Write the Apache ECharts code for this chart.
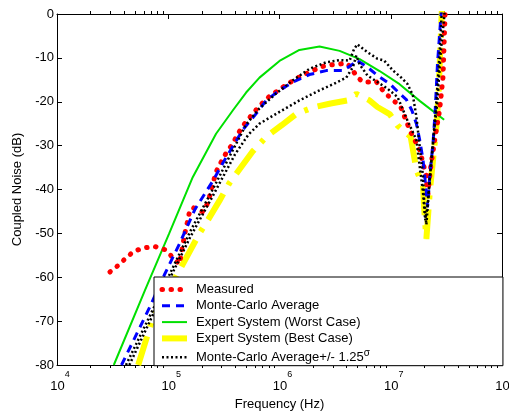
<!DOCTYPE html>
<html>
<head>
<meta charset="utf-8">
<script src="https://cdn.jsdelivr.net/npm/echarts@6/dist/echarts.min.js"></script>
<style>html,body{margin:0;padding:0;background:#fff;}#c{width:509px;height:412px;}</style>
</head>
<body>
<div id="c"></div>
<script>
// Frequencies in Hz, values in dB
const seriesNames = ['Measured', 'Monte-Carlo Average', 'Expert System (Worst Case)', 'Expert System (Best Case)', 'Monte-Carlo Average+/- 1.25σ'];
const yTicks = [0, -10, -20, -30, -40, -50, -60, -70, -80];
const decades = [1e4, 1e5, 1e6, 1e7];
const minorMultipliers = [2, 3, 4, 5, 6, 7, 8, 9];

const measuredF = [2.99e4,3.55e4,4.17e4,4.90e4,6.03e4,7.59e4,9.33e4,1.10e5,1.26e5,1.41e5,1.48e5,1.55e5,1.66e5,2.04e5,2.29e5,2.40e5,2.69e5,2.95e5,3.31e5,3.80e5,4.17e5,4.68e5,6.03e5,7.08e5,8.32e5,9.77e5,1.17e6,1.38e6,1.66e6,2.00e6,2.40e6,2.88e6,3.47e6,3.98e6,4.37e6,4.68e6,5.01e6,5.62e6,6.31e6,7.41e6,8.71e6,1.23e7,1.48e7,1.82e7,2.09e7,2.14e7,2.29e7,2.51e7,2.75e7,2.95e7,3.09e7];
const measuredDb = [-58.8,-57.3,-55.6,-54.1,-53.3,-53.0,-53.7,-55.5,-57.0,-50.0,-47.6,-45.2,-44.1,-45.1,-42.9,-40.6,-36.0,-34.0,-31.7,-29.6,-27.6,-25.5,-22.1,-20.2,-18.5,-17.4,-16.0,-14.9,-13.8,-12.9,-12.0,-11.6,-11.4,-11.2,-12.1,-13.3,-14.4,-15.5,-15.5,-15.4,-17.8,-21.2,-26.4,-31.0,-37.0,-42.0,-34.7,-28.0,-21.9,-14.4,1];

const mcAvgF = [3.80e4,6.76e4,9.33e4,1.26e5,1.74e5,2.51e5,3.09e5,3.80e5,4.68e5,6.17e5,7.59e5,1.00e6,1.32e6,1.86e6,2.63e6,3.72e6,4.57e6,4.90e6,6.17e6,7.59e6,9.77e6,1.20e7,1.38e7,1.55e7,1.70e7,1.82e7,1.95e7,2.09e7,2.14e7,2.24e7,2.40e7,2.51e7,2.63e7,2.85e7];
const mcAvgDb = [-80,-67.0,-59.2,-52.4,-44.5,-38.1,-34.0,-30.2,-26.4,-22.7,-19.7,-17.4,-15.5,-13.8,-12.9,-12.9,-11.4,-10.5,-12.1,-14.0,-15.9,-18.1,-19.5,-22.0,-25.0,-28.7,-33.2,-40.7,-44.0,-37.0,-29.4,-21.9,-11.4,1];

const worstF = [3.24e4,6.17e4,1.02e5,1.66e5,2.69e5,3.80e5,5.01e5,6.61e5,1.00e6,1.51e6,2.29e6,3.47e6,5.25e6,7.94e6,1.20e7,1.82e7,3.02e7];
const worstDb = [-80,-63.0,-50.0,-37.2,-27.3,-22.0,-17.9,-14.5,-10.7,-8.2,-7.4,-8.4,-10.3,-13.0,-16.0,-19.8,-24.1];

const bestF = [5.37e4,7.24e4,1.32e5,1.91e5,2.29e5,2.88e5,3.55e5,5.75e5,7.59e5,1.05e6,1.41e6,2.00e6,2.88e6,4.07e6,4.90e6,6.46e6,7.59e6,9.77e6,1.15e7,1.51e7,1.70e7,1.95e7,2.00e7,2.09e7,2.24e7,2.40e7,2.57e7,2.69e7,2.88e7];
const bestDb = [-80,-69.4,-57.5,-50.0,-46.8,-42.6,-38.5,-31.3,-28.0,-25.3,-22.8,-21.3,-20.4,-19.7,-18.2,-19.7,-21.2,-22.8,-25.4,-28.0,-35.5,-39.2,-44.5,-51.3,-40.7,-33.2,-25.7,-18.1,1];

const upperF = [4.17e4,7.08e4,1.00e5,1.58e5,2.51e5,3.55e5,5.01e5,6.61e5,9.33e5,1.32e6,1.86e6,2.63e6,3.47e6,4.27e6,4.68e6,5.01e6,6.17e6,7.59e6,8.71e6,1.05e7,1.23e7,1.41e7,1.58e7,1.70e7,1.82e7,1.95e7,2.00e7,2.09e7,2.24e7,2.40e7,2.57e7,2.75e7,2.88e7];
const upperDb = [-80,-68.0,-60.0,-49.5,-40.0,-32.5,-25.2,-21.5,-18.1,-15.1,-12.5,-11.0,-10.5,-10.6,-8.0,-6.9,-8.7,-10.2,-10.6,-12.9,-14.4,-15.9,-18.5,-23.4,-30.2,-37.0,-43.0,-48.0,-38.0,-29.0,-20.0,-9.0,1];

const lowerF = [4.47e4,7.94e4,1.00e5,1.58e5,2.51e5,3.98e5,5.25e5,6.61e5,1.00e6,1.51e6,2.29e6,3.09e6,3.98e6,4.57e6,4.90e6,5.25e6,6.17e6,7.59e6,9.33e6,1.15e7,1.41e7,1.70e7,1.82e7,1.95e7,2.04e7,2.14e7,2.29e7,2.45e7,2.63e7,2.82e7,3.02e7,3.06e7];
const lowerDb = [-80,-66.5,-61.0,-50.8,-41.5,-32.0,-27.5,-25.0,-22.3,-19.7,-17.4,-15.9,-14.5,-12.1,-9.5,-11.5,-14.0,-15.5,-17.0,-18.9,-24.2,-28.7,-34.7,-40.7,-47.0,-43.8,-34.7,-27.2,-19.7,-8.4,-0.8,1];

function pairs(xs, ys) { return xs.map((x, i) => [x, ys[i]]); }

// minor log tick positions (2..9 x each decade), on bottom (-80) and top (0) edges
const minorTickData = [];
decades.forEach(d => minorMultipliers.forEach(m => {
  minorTickData.push([m * d, -80, -1]);
  minorTickData.push([m * d, 0, 1]);
}));

const FONT = 'Liberation Sans, Arial, Helvetica, sans-serif';
const chart = echarts.init(document.getElementById('c'), null, {renderer: 'canvas'});

function xAxisCfg(pos, labels) {
  return {
    type: 'log', logBase: 10, min: 1e4, max: 1e8, position: pos,
    axisLine: {show: true, onZero: false, lineStyle: {color: '#000', width: 1}},
    axisTick: {show: true, inside: true, length: 5, lineStyle: {color: '#000'}},
    minorTick: {show: false},
    splitLine: {show: false},
    axisLabel: labels ? {
      show: true, margin: 5, hideOverlap: false,
      formatter: v => '{b|10}{e|' + Math.round(Math.log10(v)) + '}',
      rich: {
        b: {fontSize: 13, fontFamily: FONT, color: '#000', padding: [0, 0, 0, 6]},
        e: {fontSize: 9, fontFamily: FONT, color: '#000', padding: [0, 0, 24, 0]}
      }
    } : {show: false},
    name: labels ? 'Frequency (Hz)' : '', nameLocation: 'middle', nameGap: 25,
    nameTextStyle: {fontSize: 13, fontFamily: FONT, color: '#000'}
  };
}
function yAxisCfg(pos, labels) {
  return {
    type: 'value', min: -80, max: 0, interval: 10, position: pos,
    axisLine: {show: true, onZero: false, lineStyle: {color: '#000', width: 1}},
    axisTick: {show: true, inside: true, length: 5, lineStyle: {color: '#000'}},
    splitLine: {show: false},
    axisLabel: labels ? {show: true, fontSize: 13, fontFamily: FONT, color: '#000', margin: 3,
      formatter: v => (yTicks.indexOf(v) >= 0 ? String(v) : '')} : {show: false},
    name: labels ? 'Coupled Noise (dB)' : '', nameLocation: 'middle', nameGap: 27,
    nameTextStyle: {fontSize: 13, fontFamily: FONT, color: '#000'}
  };
}

const sigmaName = seriesNames[4];

chart.setOption({
  animation: false,
  backgroundColor: '#fff',
  grid: {left: 57, top: 14, right: 7, bottom: 47, containLabel: false, outerBoundsMode: 'none'},
  xAxis: [xAxisCfg('bottom', true), xAxisCfg('top', false)],
  yAxis: [yAxisCfg('left', true), yAxisCfg('right', false)],
  legend: {
    data: seriesNames,
    orient: 'vertical', left: 154, top: 277,
    padding: [6, 133, 2, 5],
    backgroundColor: '#fff', borderColor: '#000', borderWidth: 1, borderRadius: 0,
    itemWidth: 25, itemHeight: 12, itemGap: 3.3,
    itemStyle: {opacity: 0},
    lineStyle: {width: 'inherit'},
    textStyle: {fontSize: 13, fontFamily: FONT, color: '#000', lineHeight: 12, padding: [0, 0, 0, 4],
      rich: {s: {fontSize: 10, fontFamily: FONT, color: '#000', padding: [0, 0, 8, 0]}}},
    formatter: n => n === sigmaName ? 'Monte-Carlo Average+/- 1.25{s|σ}' : n,
    selectedMode: false
  },
  series: [
    {type: 'custom', name: 'minorTicks', coordinateSystem: 'cartesian2d', xAxisIndex: 0, yAxisIndex: 0,
      data: minorTickData, silent: true, clip: false, z: 1,
      encode: {x: 0, y: 1},
      renderItem: function (params, api) {
        const p = api.coord([api.value(0), api.value(1)]);
        const dir = api.value(2);
        const x = Math.round(p[0]) + 0.5;
        return {type: 'line', shape: {x1: x, y1: p[1], x2: x, y2: p[1] - dir * 3},
          style: {stroke: '#000', lineWidth: 1}};
      }},
    {name: seriesNames[3], type: 'line', data: pairs(bestF, bestDb), symbol: 'none', clip: true,
      lineStyle: {color: '#ffff00', width: 6, type: [30, 10, 4, 10], cap: 'butt'}, z: 2},
    {name: seriesNames[2], type: 'line', data: pairs(worstF, worstDb), symbol: 'none', clip: true,
      lineStyle: {color: '#00e000', width: 2, type: 'solid'}, z: 2},
    {name: seriesNames[0], type: 'line', data: pairs(measuredF, measuredDb), symbol: 'none', clip: true,
      lineStyle: {color: '#ff0000', width: 5, type: [0.5, 8.5], cap: 'round'}, z: 2},
    {name: seriesNames[1], type: 'line', data: pairs(mcAvgF, mcAvgDb), symbol: 'none', clip: true,
      lineStyle: {color: '#0000ff', width: 3, type: [8, 6], cap: 'butt'}, z: 2},
    {name: sigmaName, type: 'line', data: pairs(upperF, upperDb), symbol: 'none', clip: true,
      lineStyle: {color: '#000', width: 2.5, type: [2, 2.5], cap: 'butt'}, z: 2},
    {name: sigmaName, type: 'line', data: pairs(lowerF, lowerDb), symbol: 'none', clip: true,
      lineStyle: {color: '#000', width: 2.5, type: [2, 2.5], cap: 'butt'}, z: 2}
  ]
});
</script>
</body>
</html>
